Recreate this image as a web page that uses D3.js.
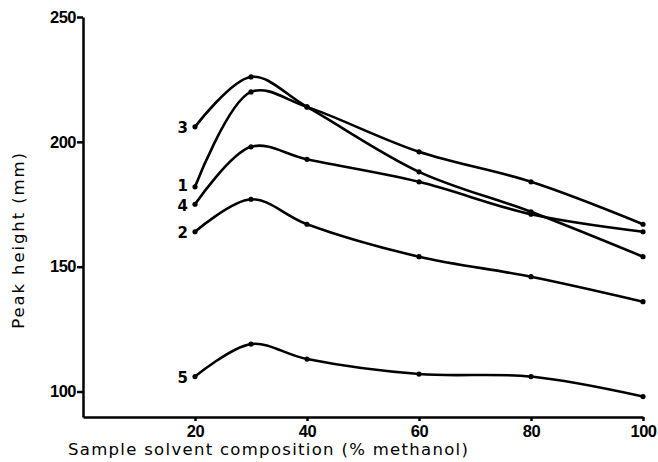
<!DOCTYPE html>
<html>
<head>
<meta charset="utf-8">
<script src="https://cdn.jsdelivr.net/npm/d3@7"></script>
<style>
  body { margin: 0; background: #fff; }
  svg { display: block; font-family: "DejaVu Sans", sans-serif; }
  .axis path, .axis line { stroke: #000; stroke-width: 2.5px; }
  .axis text { font-size: 16.5px; font-weight: bold; fill: #000; }
  .curve { fill: none; stroke: #000; stroke-width: 2.6px; }
</style>
</head>
<body>
<div id="chart-area"></div>
<script>
/* Data */
const composition = [20, 30, 40, 60, 80, 100];
const curve1 = [182, 220, 214, 196, 184, 167];
const curve2 = [164, 177, 167, 154, 146, 136];
const curve3 = [206, 226, 214, 188, 172, 154];
const curve4 = [175, 198, 193, 184, 171, 164];
const curve5 = [106, 119, 113, 107, 106, 98];
const curveNames = ['1', '2', '3', '4', '5'];
const xTicks = [20, 40, 60, 80, 100];
const yTicks = [100, 150, 200, 250];

const series = [curve1, curve2, curve3, curve4, curve5].map((vals, i) => ({
    name: curveNames[i],
    values: vals.map((v, j) => ({ x: composition[j], y: v }))
}));

/* SVG */
const margin = { left: 83, right: 15, top: 17, bottom: 45 };
const width  = 658 - margin.left - margin.right;
const height = 462 - margin.top - margin.bottom;

const svg = d3.select('#chart-area')
    .append('svg')
    .attr('width', width + margin.left + margin.right)
    .attr('height', height + margin.top + margin.bottom);

const g = svg.append('g')
    .attr('transform', `translate(${margin.left}, ${margin.top})`);

/* Scales */
const xScale = d3.scaleLinear().domain([0, 100]).range([0, 560]);
const yScale = d3.scaleLinear().domain([89.8, 250]).range([height, 0]);

/* Axis */
g.append('g')
    .attr('class', 'x axis')
    .attr('transform', `translate(0,${height})`)
    .call(d3.axisBottom(xScale).tickValues(xTicks).tickSizeInner(4).tickSizeOuter(0).tickPadding(4));

g.append('g')
    .attr('class', 'y axis')
    .call(d3.axisLeft(yScale).tickValues(yTicks).tickSizeInner(6).tickSizeOuter(0).tickPadding(1));

g.selectAll('.axis text').attr('letter-spacing', '-0.5px');

/* Labels */
svg.append('text')
    .attr('x', 68).attr('y', 455)
    .attr('font-size', '16.5px')
    .attr('letter-spacing', '1.3px')
    .text('Sample solvent composition (% methanol)');

svg.append('text')
    .attr('transform', 'translate(24,240) rotate(-90)')
    .attr('font-size', '16.5px')
    .attr('letter-spacing', '1.9px')
    .attr('text-anchor', 'middle')
    .text('Peak height (mm)');

/* Lines */
const line = d3.line()
    .x(d => xScale(d.x))
    .y(d => yScale(d.y))
    .curve(d3.curveCatmullRom.alpha(0.5));

g.selectAll('.curve')
    .data(series)
    .enter().append('path')
    .attr('class', 'curve')
    .attr('d', d => line(d.values));

/* Points */
g.selectAll('.pt')
    .data(series.flatMap(s => s.values))
    .enter().append('circle')
    .attr('class', 'pt')
    .attr('cx', d => xScale(d.x))
    .attr('cy', d => yScale(d.y))
    .attr('r', 2.6);

/* Curve numbers */
g.selectAll('.curve-label')
    .data(series)
    .enter().append('text')
    .attr('class', 'curve-label')
    .attr('x', d => xScale(d.values[0].x) - 7)
    .attr('y', d => yScale(d.values[0].y) + (d.name === '1' ? -1 : 1))
    .attr('dy', '0.35em')
    .attr('text-anchor', 'end')
    .attr('font-size', '15px')
    .attr('font-weight', 'bold')
    .text(d => d.name);
</script>
</body>
</html>
